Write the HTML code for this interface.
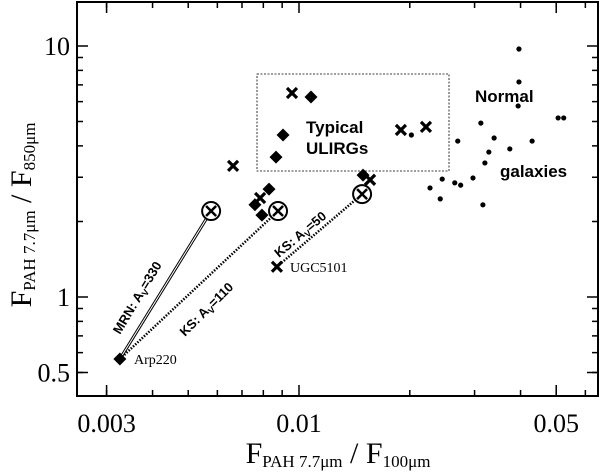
<!DOCTYPE html>
<html><head><meta charset="utf-8"><style>
html,body{margin:0;padding:0;background:#fff;}
svg{display:block;font-family:"Liberation Serif",serif;}
.lab{font-family:"Liberation Sans",sans-serif;font-weight:bold;}
</style></head><body>
<svg id="chart" width="600" height="473" viewBox="0 0 600 473" xmlns="http://www.w3.org/2000/svg">
<g id="axes"></g>
<g id="marks"></g>
<text x="338" y="463" text-anchor="middle" font-size="30">F<tspan font-size="17" dy="4">PAH 7.7μm</tspan><tspan dy="-4" font-size="30"> / F</tspan><tspan font-size="17" dy="4">100μm</tspan></text>
<text transform="translate(31,215) rotate(-90)" text-anchor="middle" font-size="30">F<tspan font-size="17" dy="4">PAH 7.7μm</tspan><tspan dy="-4" font-size="30"> / F</tspan><tspan font-size="17" dy="4">850μm</tspan></text>
<rect x="257" y="74" width="192" height="97" fill="none" stroke="#000" stroke-width="0.8" stroke-dasharray="2,1.5"/>
<text class="lab" x="306" y="133" font-size="17">Typical</text>
<text class="lab" x="306" y="154" font-size="17">ULIRGs</text>
<text class="lab" x="475" y="102" font-size="17">Normal</text>
<text class="lab" x="500" y="177" font-size="17">galaxies</text>
<text class="lab" transform="translate(120,335) rotate(-59)" font-size="13">MRN: A<tspan font-size="9" dy="3">V</tspan><tspan dy="-3">=330</tspan></text>
<text class="lab" transform="translate(185,337) rotate(-45)" font-size="13">KS: A<tspan font-size="9" dy="3">V</tspan><tspan dy="-3">=110</tspan></text>
<text class="lab" transform="translate(279,258) rotate(-40)" font-size="13">KS: A<tspan font-size="9" dy="3">V</tspan><tspan dy="-3">=50</tspan></text>
<text x="134" y="364" font-size="14">Arp220</text>
<text x="290" y="272" font-size="14">UGC5101</text>
</svg>
<script>
const xTicksMajor=[0.003,0.01,0.05];
const xTickLabels=["0.003","0.01","0.05"];
const xTicksMinor=[0.003,0.004,0.005,0.006,0.007,0.008,0.009,0.02,0.03,0.04,0.05,0.06];
const yTicksMajor=[0.5,1,10];
const yTickLabels=["0.5","1","10"];
const yTicksMinor=[0.5,0.6,0.7,0.8,0.9,2,3,4,5,6,7,8,9];
const diamondX=[0.00326,0.01078,0.00905,0.00866,0.00829,0.00759,0.00793,0.01493];
const diamondY=[0.566,6.26,4.42,3.61,2.69,2.33,2.12,3.06];
const crossX=[0.00957,0.01892,0.02213,0.00662,0.00784,0.0156,0.00871];
const crossY=[6.50,4.63,4.76,3.33,2.48,2.93,1.32];
const circX=[0.00577,0.00877,0.01484];
const circY=[2.20,2.20,2.57];
const dotX=[0.0396,0.0396,0.0394,0.0506,0.0524,0.0312,0.027,0.0339,0.043,0.0374,0.0328,0.032,0.0297,0.0245,0.0265,0.0275,0.0227,0.0242,0.0316,0.0202];
const dotY=[9.73,7.19,5.77,5.17,5.17,4.93,4.18,4.30,4.18,3.89,3.78,3.42,2.98,2.95,2.85,2.79,2.72,2.46,2.33,4.42];
// reddening vectors: [startX,startY,endX,endY]
const vecMRN=[0.00326,0.566,0.00577,2.20];
const vecKS110=[0.00326,0.566,0.00877,2.20];
const vecKS50=[0.00871,1.32,0.01484,2.57];

const L=77,R=598,T=2,B=396;
function X(v){return 299+368*Math.log10(v/0.01);}
function Y(v){return 297-251*Math.log10(v);}
const NS="http://www.w3.org/2000/svg";
function mk(parent,tag,attrs){const e=document.createElementNS(NS,tag);for(const k in attrs)e.setAttribute(k,attrs[k]);parent.appendChild(e);return e;}
const ax=document.getElementById('axes');
const mg=document.getElementById('marks');
let f=mk(ax,'rect',{x:L,y:T,width:R-L,height:B-T,fill:'none',stroke:'#000','stroke-width':2});


xTicksMinor.forEach(v=>{const x=X(v);
 let t=mk(ax,'path',{d:`M${x},${B}v-6M${x},${T}v6`,stroke:'#000','stroke-width':1.5});
 
 });
xTicksMajor.forEach((v,i)=>{const x=X(v);
 let t=mk(ax,'path',{d:`M${x},${B}v-11M${x},${T}v11`,stroke:'#000','stroke-width':1.5});
 
 
 let l=mk(ax,'text',{x:x,y:432,'text-anchor':'middle','font-size':26});
 l.textContent=xTickLabels[i];
 
 });
yTicksMinor.forEach(v=>{const y=Y(v);
 let t=mk(ax,'path',{d:`M${L},${y}h6M${R},${y}h-6`,stroke:'#000','stroke-width':1.5});
 
 });
yTicksMajor.forEach((v,i)=>{const y=Y(v);
 let t=mk(ax,'path',{d:`M${L},${y}h11M${R},${y}h-11`,stroke:'#000','stroke-width':1.5});
 
 
 let l=mk(ax,'text',{x:70,y:y+9,'text-anchor':'end','font-size':26});
 l.textContent=yTickLabels[i];
 
 });
// vectors
let m1=mk(mg,'line',{x1:X(vecMRN[0]),y1:Y(vecMRN[1]),x2:X(vecMRN[2]),y2:Y(vecMRN[3]),stroke:'#000','stroke-width':3});


let m1b=mk(mg,'line',{x1:X(vecMRN[0]),y1:Y(vecMRN[1]),x2:X(vecMRN[2]),y2:Y(vecMRN[3]),stroke:'#fff','stroke-width':1});


[[vecKS110,'ks110-vector'],[vecKS50,'ks50-vector']].forEach(([v,n])=>{
 let l=mk(mg,'line',{x1:X(v[0]),y1:Y(v[1]),x2:X(v[2]),y2:Y(v[3]),stroke:'#000','stroke-width':2.5,'stroke-dasharray':'1.5,1.5'});
 
 });
dotX.forEach((v,i)=>{
 let c=mk(mg,'circle',{cx:X(v),cy:Y(dotY[i]),r:2.6,fill:'#000'});
 
 });
diamondX.forEach((v,i)=>{const x=X(v),y=Y(diamondY[i]);
 let p=mk(mg,'path',{d:`M${x},${y-6.5}L${x+6.5},${y}L${x},${y+6.5}L${x-6.5},${y}Z`,fill:'#000'});
 
 });
crossX.forEach((v,i)=>{const x=X(v),y=Y(crossY[i]);
 let p=mk(mg,'path',{d:`M${x-5},${y-5}L${x+5},${y+5}M${x+5},${y-5}L${x-5},${y+5}`,stroke:'#000','stroke-width':3.2});
 
 });
circX.forEach((v,i)=>{const x=X(v),y=Y(circY[i]);
 let g=mk(mg,'g',{});
 
 
 mk(g,'circle',{cx:x,cy:y,r:9,fill:'#fff',stroke:'#000','stroke-width':2});
 mk(g,'path',{d:`M${x-5},${y-5}L${x+5},${y+5}M${x+5},${y-5}L${x-5},${y+5}`,stroke:'#000','stroke-width':2.5});});
</script>
</body></html>
